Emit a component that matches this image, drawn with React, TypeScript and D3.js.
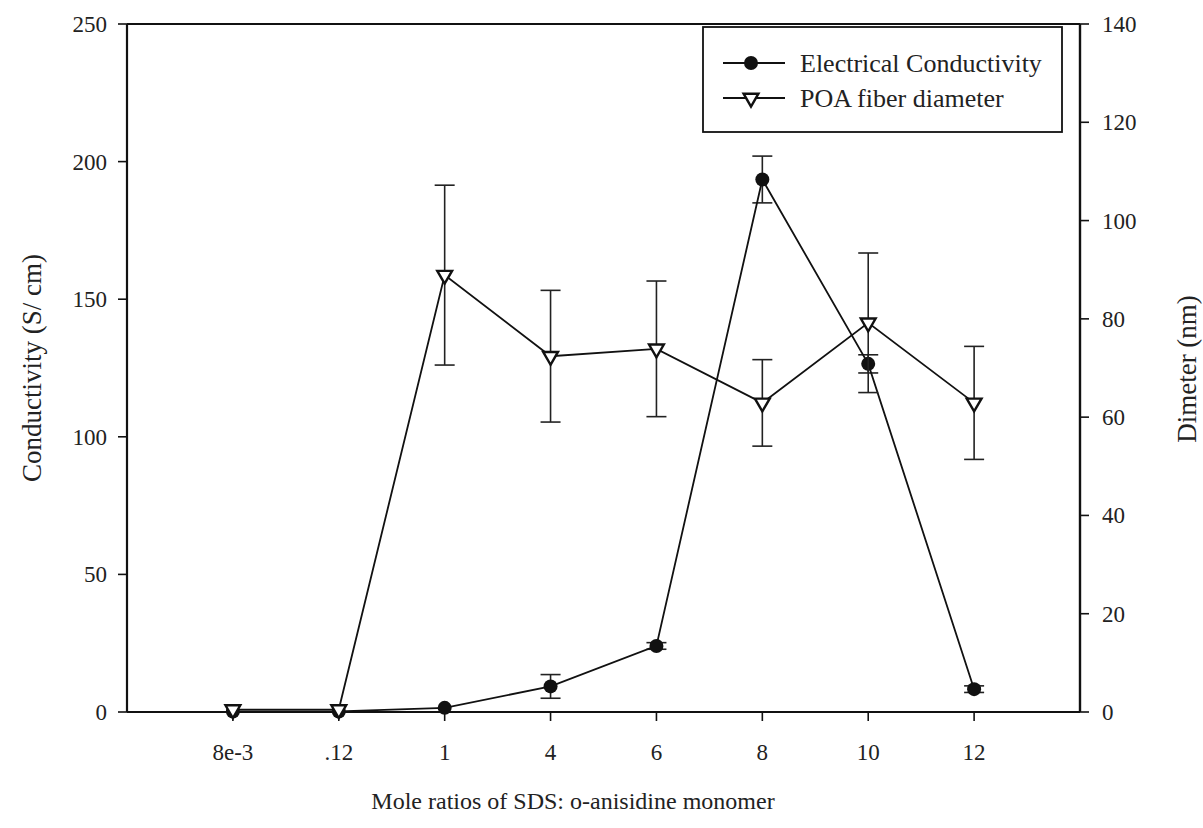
import { useEffect, useRef } from "react";
import * as d3 from "d3";

const categories = ["8e-3", ".12", "1", "4", "6", "8", "10", "12"];
const conductivity = [0.2, 0.2, 1.5, 9.3, 24, 193.5, 126.5, 8.3];
const conductivityErr = [0, 0, 0, 4.3, 1.2, 8.5, 3.3, 1.2];
const diameter = [0.5, 0.5, 88.9, 72.4, 73.9, 62.9, 79.2, 62.9];
const diameterErr = [0, 0, 18.3, 13.4, 13.8, 8.8, 14.2, 11.5];
const leftTicks = [0, 50, 100, 150, 200, 250];
const rightTicks = [0, 20, 40, 60, 80, 100, 120, 140];

const W = 1203;
const H = 828;

const App = () => {
    const svgRef = useRef<SVGSVGElement>(null);

    useEffect(() => {
        const svg = d3.select(svgRef.current);
        svg.selectAll("*").remove();

        const left = 127, right = 1080, top = 24, bottom = 712;
        const font = "'Liberation Serif', 'Times New Roman', serif";

        const x = d3.scaleLinear().domain([0, categories.length + 1]).range([left, right]);
        const yL = d3.scaleLinear().domain([0, 250]).range([bottom, top]);
        const yR = d3.scaleLinear().domain([0, 140]).range([bottom, top]);
        const xi = (i: number) => x(i + 1);

        // frame top
        svg.append("line")
            .attr("x1", left).attr("x2", right)
            .attr("y1", top).attr("y2", top)
            .attr("stroke", "#111").attr("stroke-width", 2);

        // bottom axis
        const gx = svg.append("g").attr("transform", `translate(0, ${bottom})`);
        gx.append("line").attr("x1", left).attr("x2", right).attr("stroke", "#111").attr("stroke-width", 2.2);
        categories.forEach((c, i) => {
            gx.append("line").attr("x1", xi(i)).attr("x2", xi(i)).attr("y1", 0).attr("y2", 9)
                .attr("stroke", "#111").attr("stroke-width", 1.6);
            gx.append("text").attr("x", xi(i)).attr("y", 48)
                .attr("text-anchor", "middle").style("font-family", font).style("font-size", "23px")
                .attr("fill", "#222").text(c);
        });

        // left axis
        const gl = svg.append("g").attr("transform", `translate(${left}, 0)`);
        gl.append("line").attr("y1", top).attr("y2", bottom).attr("stroke", "#111").attr("stroke-width", 2.2);
        leftTicks.forEach((t) => {
            gl.append("line").attr("x1", -9).attr("x2", 0).attr("y1", yL(t)).attr("y2", yL(t))
                .attr("stroke", "#111").attr("stroke-width", 1.6);
            gl.append("text").attr("x", -20).attr("y", yL(t)).attr("dy", "0.35em")
                .attr("text-anchor", "end").style("font-family", font).style("font-size", "23px")
                .attr("fill", "#222").text(t);
        });

        // right axis
        const gr = svg.append("g").attr("transform", `translate(${right}, 0)`);
        gr.append("line").attr("y1", top).attr("y2", bottom).attr("stroke", "#111").attr("stroke-width", 2.4);
        rightTicks.forEach((t) => {
            gr.append("line").attr("x1", 0).attr("x2", 9).attr("y1", yR(t)).attr("y2", yR(t))
                .attr("stroke", "#111").attr("stroke-width", 1.6);
            gr.append("text").attr("x", 22).attr("y", yR(t)).attr("dy", "0.35em")
                .attr("text-anchor", "start").style("font-family", font).style("font-size", "23px")
                .attr("fill", "#222").text(t);
        });

        // axis titles
        svg.append("text")
            .attr("transform", `translate(41, 368) rotate(-90)`)
            .attr("text-anchor", "middle").style("font-family", font).style("font-size", "27px")
            .attr("fill", "#222").text("Conductivity (S/ cm)");
        svg.append("text")
            .attr("transform", `translate(1196, 369) rotate(-90)`)
            .attr("text-anchor", "middle").style("font-family", font).style("font-size", "27px")
            .attr("fill", "#222").text("Dimeter (nm)");
        svg.append("text")
            .attr("x", 573).attr("y", 809)
            .attr("text-anchor", "middle").style("font-family", font).style("font-size", "24px")
            .attr("fill", "#222").text("Mole ratios of SDS: o-anisidine monomer");

        const errBars = (vals: number[], errs: number[], y: d3.ScaleLinear<number, number>) => {
            vals.forEach((v, i) => {
                if (!errs[i]) return;
                const cx = xi(i);
                const hi = y(v + errs[i]);
                const lo = y(v - errs[i]);
                svg.append("line").attr("x1", cx).attr("x2", cx).attr("y1", hi).attr("y2", lo)
                    .attr("stroke", "#222").attr("stroke-width", 1.6);
                [hi, lo].forEach((yy) =>
                    svg.append("line").attr("x1", cx - 10).attr("x2", cx + 10).attr("y1", yy).attr("y2", yy)
                        .attr("stroke", "#222").attr("stroke-width", 1.6)
                );
            });
        };

        const line = (y: d3.ScaleLinear<number, number>) =>
            d3.line<number>().x((_, i) => xi(i)).y((d) => y(d));

        // conductivity series
        errBars(conductivity, conductivityErr, yL);
        svg.append("path").datum(conductivity).attr("d", line(yL))
            .attr("fill", "none").attr("stroke", "#111").attr("stroke-width", 1.8);
        svg.selectAll(".cond").data(conductivity).enter().append("circle")
            .attr("cx", (_, i) => xi(i)).attr("cy", (d) => yL(d)).attr("r", 7)
            .attr("fill", "#111");

        // diameter series
        errBars(diameter, diameterErr, yR);
        svg.append("path").datum(diameter).attr("d", line(yR))
            .attr("fill", "none").attr("stroke", "#111").attr("stroke-width", 1.8);
        const tri = d3.symbol().type(d3.symbolTriangle).size(95);
        svg.selectAll(".diam").data(diameter).enter().append("path")
            .attr("d", tri as any)
            .attr("transform", (d, i) => `translate(${xi(i)}, ${yR(d)}) rotate(180)`)
            .attr("fill", "#fff").attr("stroke", "#111").attr("stroke-width", 2.4);

        // legend
        const lg = svg.append("g");
        lg.append("rect").attr("x", 703).attr("y", 27).attr("width", 359).attr("height", 105)
            .attr("fill", "#fff").attr("stroke", "#111").attr("stroke-width", 1.8);
        const items = ["Electrical Conductivity", "POA fiber diameter"];
        items.forEach((name, i) => {
            const yy = 63 + i * 35;
            lg.append("line").attr("x1", 723).attr("x2", 785).attr("y1", yy).attr("y2", yy)
                .attr("stroke", "#111").attr("stroke-width", 1.8);
            if (i === 0) {
                lg.append("circle").attr("cx", 751).attr("cy", yy).attr("r", 7).attr("fill", "#111");
            } else {
                lg.append("path").attr("d", tri as any)
                    .attr("transform", `translate(751, ${yy}) rotate(180)`)
                    .attr("fill", "#fff").attr("stroke", "#111").attr("stroke-width", 2.4);
            }
            lg.append("text").attr("x", 800).attr("y", yy).attr("dy", "0.35em")
                .style("font-family", font).style("font-size", "26px")
                .attr("fill", "#222").text(name);
        });
    }, []);

    return (
        <svg
            ref={svgRef}
            width={W}
            height={H}
            viewBox={`0 0 ${W} ${H}`}
            style={{ position: "absolute", left: 0, top: 0, background: "#fff" }}
        ></svg>
    );
};

export default App;
